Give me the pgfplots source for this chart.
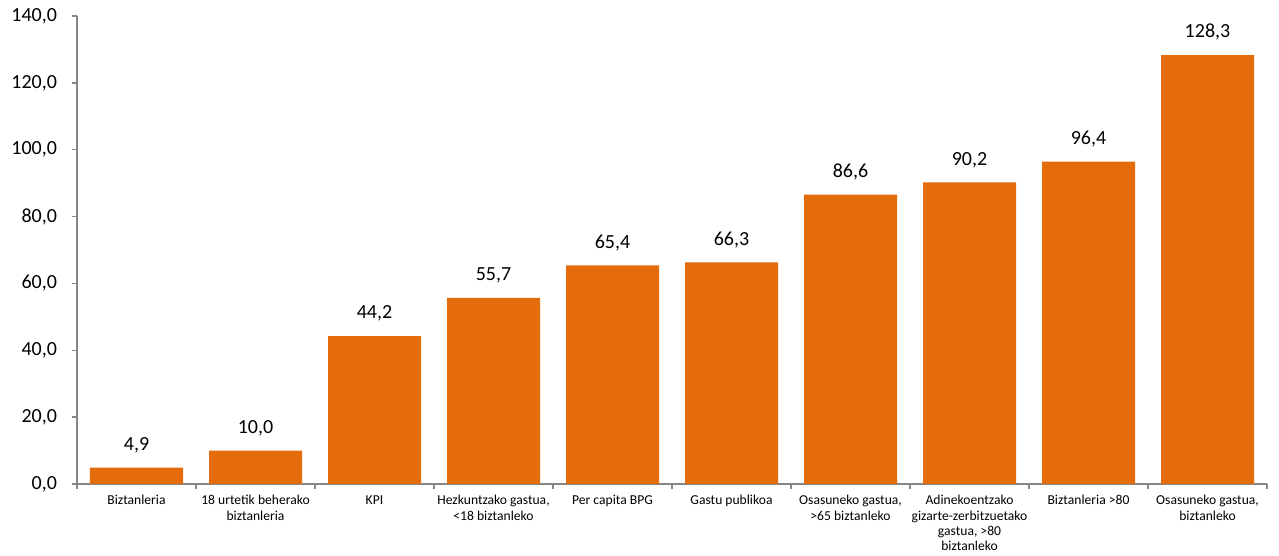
\documentclass[border=0pt]{standalone}
\usepackage{fontspec}
\setmainfont{Carlito}
\usepackage{pgfplots}
\pgfplotsset{compat=1.18}
\definecolor{barorange}{HTML}{E46C0A}
\definecolor{axisgray}{HTML}{868686}
\begin{document}
\begin{tikzpicture}
\begin{axis}[
  at={(0,0)}, anchor=south west,
  scale only axis,
  width=892.5pt, height=351pt,
  xmin=-0.5, xmax=9.5,
  ymin=0, ymax=140,
  ytick={0,20,...,140},
  axis x line*=bottom,
  axis y line*=left,
  axis line style={draw=axisgray, line width=1pt},
  tick style={draw=axisgray, line width=1pt},
  tick align=outside,
  major tick length=4pt,
  xtick={0,...,9},
  major x tick style={draw=none},
  minor xtick={-0.5,0.5,...,9.5},
  minor x tick style={draw=axisgray, line width=1pt},
  minor tick length=4pt,
  xticklabels={
    Biztanleria,
    {18 urtetik beherako\\biztanleria},
    KPI,
    {Hezkuntzako gastua,\\<18 biztanleko},
    Per capita BPG,
    Gastu publikoa,
    {Osasuneko gastua,\\>65 biztanleko},
    {Adinekoentzako\\gizarte-zerbitzuetako\\gastua, >80\\biztanleko},
    Biztanleria >80,
    {Osasuneko gastua,\\biztanleko}
  },
  xticklabel style={font=\fontsize{10.2}{11.4}\selectfont, align=center, anchor=north, yshift=-1pt},
  yticklabel style={font=\fontsize{15}{17}\selectfont, xshift=-7.5pt},
  /pgf/number format/.cd, fixed, fixed zerofill, precision=1, use comma, assume math mode=true,
  /pgfplots/.cd,
  ybar, bar width=69.75pt,
  nodes near coords,
  every node near coord/.append style={font=\fontsize{15}{17}\selectfont, anchor=south, yshift=7.5pt,
    /pgf/number format/.cd, fixed, fixed zerofill, precision=1, use comma, assume math mode=true},
  clip=false,
]
\addplot[fill=barorange, draw=none] coordinates {
  (0,4.9) (1,10.0) (2,44.2) (3,55.7) (4,65.4) (5,66.3) (6,86.6) (7,90.2) (8,96.4) (9,128.3)
};
\end{axis}
\pgfresetboundingbox
\path[use as bounding box] (-57.75pt,-54pt) rectangle (901.5pt,363pt);
\end{tikzpicture}
\end{document}
